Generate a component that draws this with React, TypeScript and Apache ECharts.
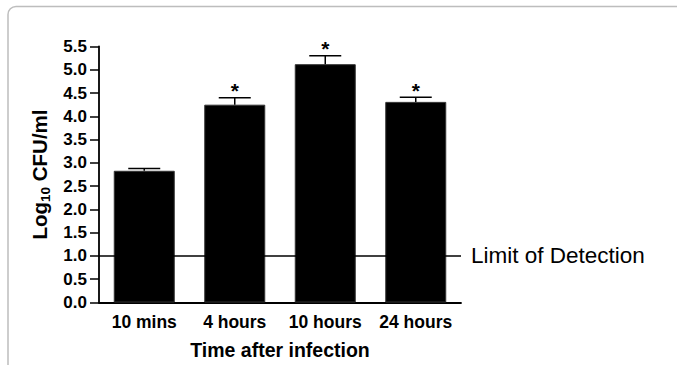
import React, { useEffect, useRef } from "react";
import * as echarts from "echarts";

const categories = ["10 mins", "4 hours", "10 hours", "24 hours"];
const meanValues = [2.83, 4.25, 5.12, 4.31];
const upperError = [2.88, 4.4, 5.3, 4.41];
const significant = [false, true, true, true];
const yTicks = { min: 0, max: 5.5, interval: 0.5 };
const detectionLimit = 1.0;
const detectionLabel = "Limit of Detection";
const xTitle = "Time after infection";

const FONT = "'Liberation Sans', Arial, Helvetica, sans-serif";

export default function App() {
  const ref = useRef<HTMLDivElement>(null);
  useEffect(() => {
    if (!ref.current) return;
    const chart = echarts.init(ref.current, null, { renderer: "svg" });
    const errData = categories.map((c, i) => [i, meanValues[i], upperError[i], significant[i] ? 1 : 0]);
    chart.setOption({
      animation: false,
      backgroundColor: "#ffffff",
      grid: { left: 99, right: 216, top: 46.5, bottom: 62.5, containLabel: false },
      graphic: [
        {
          type: "rect",
          z: -10,
          shape: { x: 8, y: 6.5, width: 720, height: 420, r: 8 },
          style: { fill: "none", stroke: "#bdbdbd", lineWidth: 1.5 },
        },
      ],
      xAxis: {
        type: "category",
        data: categories,
        name: xTitle,
        nameLocation: "middle",
        nameGap: 37,
        nameTextStyle: { fontFamily: FONT, fontWeight: "bold", fontSize: 19.5, color: "#000" },
        axisLine: { lineStyle: { color: "#000", width: 1.8 } },
        axisTick: { alignWithLabel: true, length: 9, lineStyle: { color: "#000", width: 1.5 } },
        axisLabel: { interval: 0, fontFamily: FONT, fontWeight: "bold", fontSize: 17.5, color: "#000", margin: 10 },
      },
      yAxis: {
        type: "value",
        min: yTicks.min,
        max: yTicks.max,
        interval: yTicks.interval,
        name: "{a|Log}{b|10}{a| CFU/ml}",
        nameLocation: "middle",
        nameRotate: 90,
        nameGap: 44,
        nameTextStyle: {
          rich: {
            a: { fontFamily: FONT, fontWeight: "bold", fontSize: 20.5, color: "#000", lineHeight: 24, verticalAlign: "bottom" },
            b: { fontFamily: FONT, fontWeight: "bold", fontSize: 13.5, color: "#000", lineHeight: 13, verticalAlign: "bottom", padding: [0, 0, -2, 0] },
          },
        },
        splitLine: { show: false },
        axisLine: { show: true, lineStyle: { color: "#000", width: 1.8 } },
        axisTick: { show: true, length: 9, lineStyle: { color: "#000", width: 1.5 } },
        axisLabel: {
          fontFamily: FONT,
          fontWeight: "bold",
          fontSize: 17,
          color: "#000",
          margin: 12,
          formatter: (v: number) => v.toFixed(1),
        },
      },
      series: [
        {
          type: "bar",
          data: meanValues,
          barWidth: 61,
          itemStyle: { color: "#000", borderColor: "#333", borderWidth: 1 },
          markLine: {
            silent: true,
            symbol: ["none", "none"],
            lineStyle: { color: "#000", width: 1.5, type: "solid" },
            label: {
              show: true,
              position: "end",
              distance: 10,
              formatter: detectionLabel,
              fontFamily: FONT,
              fontSize: 22.5,
              color: "#000",
            },
            data: [{ yAxis: detectionLimit }],
          },
          z: 2,
        },
        {
          type: "custom",
          data: errData,
          z: 3,
          renderItem: (params: any, api: any) => {
            const idx = api.value(0);
            const top = api.coord([idx, api.value(1)]);
            const up = api.coord([idx, api.value(2)]);
            const sig = api.value(3);
            const half = 16;
            const children: any[] = [
              { type: "line", shape: { x1: top[0], y1: top[1], x2: up[0], y2: up[1] }, style: { stroke: "#000", lineWidth: 1.5 } },
              { type: "line", shape: { x1: up[0] - half, y1: up[1], x2: up[0] + half, y2: up[1] }, style: { stroke: "#000", lineWidth: 1.5 } },
            ];
            if (sig) {
              children.push({
                type: "text",
                x: up[0],
                y: up[1] - 7,
                style: { text: "*", fontFamily: FONT, fontWeight: "bold", fontSize: 21, fill: "#000", align: "center", verticalAlign: "middle" },
              });
            }
            return { type: "group", children };
          },
        },
      ],
    });
    return () => chart.dispose();
  }, []);
  return <div ref={ref} style={{ position: "fixed", left: 0, top: 0, width: 677, height: 365 }} />;
}
